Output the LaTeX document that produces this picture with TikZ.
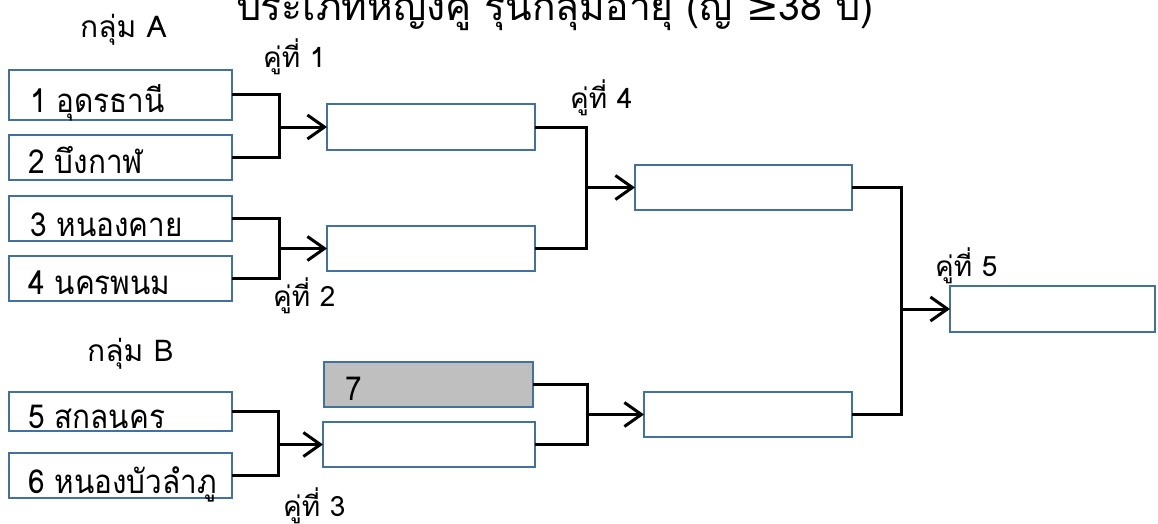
\documentclass[tikz,border=0pt]{standalone}
\usepackage{fontspec}
\setmainfont[Script=Thai]{Loma}
\newfontfamily\teamfont[Script=Thai,FakeStretch=0.9]{Loma}
\newfontfamily\symfont{DejaVu Sans}
\usetikzlibrary{arrows.meta}
\definecolor{boxblue}{RGB}{65,113,156}
\definecolor{byefill}{RGB}{191,191,191}
\begin{document}
\begin{tikzpicture}[x=1pt,y=-1pt,
  box/.style={draw=boxblue, line width=1.5pt, fill=white, inner sep=0pt, outer sep=0pt, rectangle},
  conn/.style={draw=black, line width=3pt, line join=miter},
  arr/.style={conn, -{Straight Barb[length=17pt,width=24pt,line width=3pt]}},
  team/.style={anchor=base west, inner sep=0pt, font=\teamfont\fontsize{33}{36}\selectfont},
  pair/.style={anchor=base west, inner sep=0pt, font=\fontsize{28}{30}\selectfont},
  grp/.style={anchor=base west, inner sep=0pt, font=\fontsize{30}{32}\selectfont}]
\useasboundingbox (0,0) rectangle (1158,524);
\clip (0,0) rectangle (1158,524);
\fill[white] (0,0) rectangle (1158,524);

% title (clipped at top, as in the reference)
\node[anchor=base west, inner sep=0pt, font=\fontsize{39}{43}\selectfont] (title) at (236,21)
  {ประเภทหญิงคู่ รุ่นกลุ่มอายุ (ญ {\symfont≥}38 ปี)};

% group labels
\node[grp] (ga) at (80,38) {กลุ่ม A};
\node[grp] (gb) at (87,361) {กลุ่ม B};

% first round boxes
\node[box, minimum width=223pt, minimum height=50pt] (t1) at (120.5,95) {};
\node[box, minimum width=223pt, minimum height=45pt] (t2) at (120.5,157.5) {};
\node[box, minimum width=223pt, minimum height=45pt] (t3) at (120.5,218.5) {};
\node[box, minimum width=223pt, minimum height=45pt] (t4) at (120.5,278.5) {};
\node[box, minimum width=223pt, minimum height=39pt] (t5) at (120.5,411.5) {};
\node[box, minimum width=223pt, minimum height=45pt] (t6) at (120.5,475.5) {};

\node[team] (l1) at (30,113) {1 อุดรธานี};
\node[team] (l2) at (28,173) {2 บึงกาฬ};
\node[team] (l3) at (30,236) {3 หนองคาย};
\node[team] (l4) at (28,294) {4 นครพนม};
\node[team] (l5) at (28,428) {5 สกลนคร};
\node[team] (l6) at (28,493) {6 หนองบัวลำภู};

% second round boxes
\node[box, minimum width=208pt, minimum height=46pt] (r1) at (431,127) {};
\node[box, minimum width=208pt, minimum height=45pt] (r2) at (431,248.5) {};
\node[box, fill=byefill, minimum width=209pt, minimum height=45pt] (r7) at (428.5,384.5) {};
\node[box, minimum width=212pt, minimum height=45pt] (r3) at (429,444.5) {};
\node[team] (l7) at (345,400) {7};

% third round boxes
\node[box, minimum width=217pt, minimum height=45pt] (s1) at (743.5,187.5) {};
\node[box, minimum width=208pt, minimum height=45pt] (s2) at (748,414.5) {};

% final box
\node[box, minimum width=205pt, minimum height=46pt] (fin) at (1052.5,309) {};

% junctions
\coordinate (j1) at (279,0 |- r1.west);
\coordinate (j2) at (279,0 |- r2.west);
\coordinate (j3) at (278,0 |- r3.west);
\coordinate (j4) at (586,0 |- s1.west);
\coordinate (j6) at (587,0 |- s2.west);
\coordinate (j5) at (901,0 |- fin.west);

% brackets
\draw[conn] (t1.east) -| (j1) |- (t2.east);
\draw[conn] (t3.east) -| (j2) |- (t4.east);
\draw[conn] (t5.east) -| (j3) |- (t6.east);
\draw[conn] (r1.east) -| (j4) |- (r2.east);
\draw[conn] (r7.east) -| (j6) |- (r3.east);
\draw[conn] (s1.east) -| (j5) |- (s2.east);

% arrows
\draw[arr] (j1) -- (r1.west);
\draw[arr] (j2) -- (r2.west);
\draw[arr] (j3) -- (r3.west);
\draw[arr] (j4) -- (s1.west);
\draw[arr] (j6) -- (s2.west);
\draw[arr] (j5) -- (fin.west);

% pair labels
\node[pair] (p1) at (263,68) {คู่ที่ 1};
\node[pair] (p2) at (273,306) {คู่ที่ 2};
\node[pair] (p3) at (283,516) {คู่ที่ 3};
\node[pair] (p4) at (570,109) {คู่ที่ 4};
\node[pair] (p5) at (935,276) {คู่ที่ 5};
\end{tikzpicture}
\end{document}
